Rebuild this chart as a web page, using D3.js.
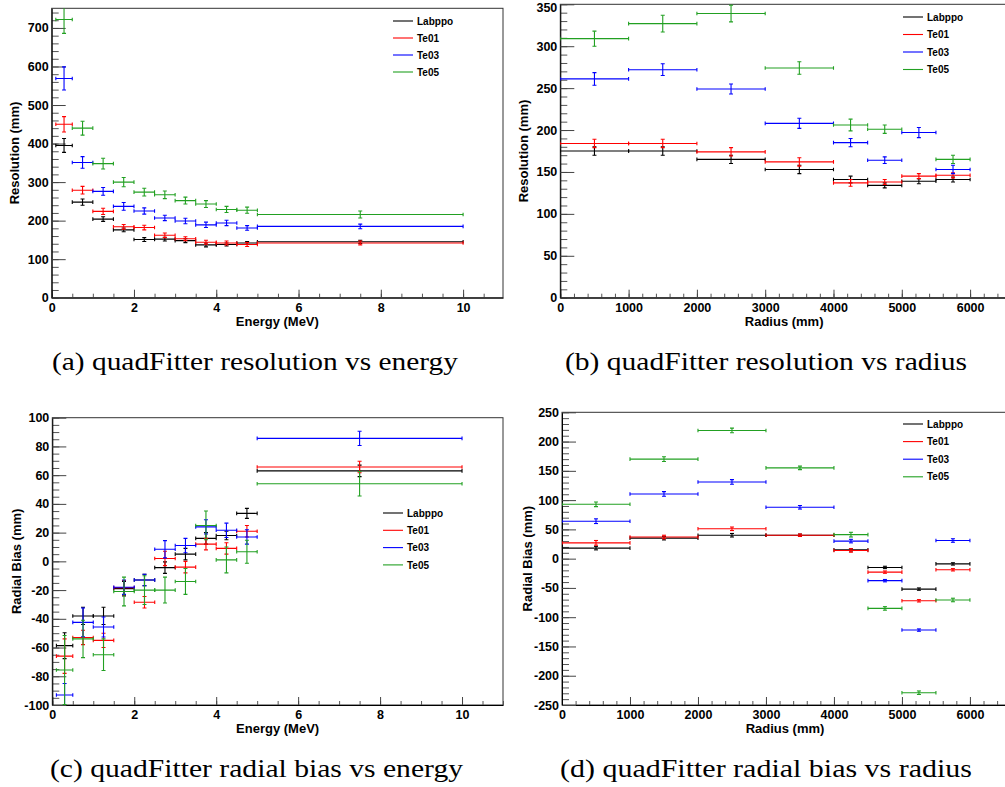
<!DOCTYPE html>
<html>
<head>
<meta charset="utf-8">
<script src="https://cdn.jsdelivr.net/npm/d3@7"></script>
<style>
  body { margin: 0; background: #fff; }
  svg { display: block; }
  .tick text { font-family: "Liberation Sans", Arial, sans-serif; font-weight: bold; font-size: 12.5px; fill: #000; }
  .axisTitle { font-family: "Liberation Sans", Arial, sans-serif; font-weight: bold; font-size: 13px; fill: #000; }
  .legendText { font-family: "Liberation Sans", Arial, sans-serif; font-weight: bold; font-size: 10px; fill: #000; }
  .caption { font-family: "Liberation Serif", "DejaVu Serif", serif; font-size: 25px; fill: #000; }
</style>
</head>
<body>
<svg id="fig" width="1005" height="787"></svg>
<script>
"use strict";

// series
const seriesNames = ["Labppo", "Te01", "Te03", "Te05"];
const seriesColors = ["#000000", "#ff0000", "#0000ff", "#22a022"];

// bins
const energyX = [0.3, 0.75, 1.25, 1.75, 2.25, 2.75, 3.25, 3.75, 4.25, 4.75, 7.5];
const energyHalf = [0.2, 0.25, 0.25, 0.25, 0.25, 0.25, 0.25, 0.25, 0.25, 0.25, 2.5];
const radiusX = [500, 1500, 2500, 3500, 4250, 4750, 5250, 5750];
const radiusHalf = [500, 500, 500, 500, 250, 250, 250, 250];

// (a) resolution vs energy
const resEnergyVal = [
  [395, 248, 204, 176, 151, 152, 148, 137, 138, 142, 145],
  [450, 279, 224, 184, 182, 162, 153, 144, 142, 138, 142],
  [569, 351, 276, 237, 225, 207, 199, 189, 194, 181, 185],
  [722, 440, 348, 300, 274, 267, 252, 243, 229, 227, 216]
];
const resEnergyErr = [
  [18, 8, 6, 5, 5, 5, 5, 5, 4, 4, 4],
  [20, 10, 8, 6, 6, 6, 5, 5, 5, 5, 5],
  [30, 15, 10, 10, 8, 7, 7, 7, 7, 6, 6],
  [36, 18, 14, 12, 10, 10, 9, 9, 8, 8, 9]
];

// (b) resolution vs radius
const resRadiusVal = [
  [175, 175, 165, 153, 141, 134, 139, 141],
  [184, 184, 174, 162, 137, 138, 145, 146],
  [261, 272, 249, 208, 185, 164, 197, 153],
  [309, 327, 339, 274, 206, 201, null, 165]
];
const resRadiusErr = [
  [5, 5, 5, 5, 4, 3, 3, 3],
  [5, 5, 5, 5, 4, 3, 3, 3],
  [7.5, 7, 6, 6, 5, 4, 6, 5],
  [9, 10, 10, 7.5, 7, 5, 0, 5]
];

// (c) radial bias vs energy
const biasEnergyVal = [
  [-58.7, -38, -38, -19, -13, -4.4, 5, 16, 18, 33.4, 63],
  [-66, -53, -55, -18.3, -28.5, 2, -4, 12, 9, 21, 65.7],
  [-93, -42.5, -45.7, -18, -13, 8.4, 11, 24, 21.6, 17, 85.6],
  [-75.6, -54, -65, -21, -20, -20, -14, 25, 1, 6.7, 54]
];
const biasEnergyErr = [
  [9, 6, 6, 5, 4, 4, 4, 4, 3, 3.5, 4],
  [12, 5, 5, 5, 4, 5, 4, 4, 4, 4, 4],
  [8, 10, 7, 5, 4, 6, 5, 5, 5, 5, 5],
  [24, 13, 11, 10, 10, 9, 9, 10, 9, 8, 8.5]
];

// (d) radial bias vs radius
const biasRadiusVal = [
  [18, 35, 40, 40, 15, -15, -52, -9],
  [27, 37, 51, 40, 14, -23, -72, -19],
  [64, 110.5, 131, 87.7, 30, -37.6, -122, 31],
  [92.8, 170, 219, 155, 41, -85, -229, -70.6]
];
const biasRadiusErr = [
  [3, 3, 3, 2, 2, 2, 2, 2],
  [4, 3, 3, 2, 3, 2, 2, 2],
  [4, 4, 4, 3, 3, 2, 2, 3],
  [4, 4, 4, 3, 4, 3, 3, 3]
];

// tick labels
const energyTicks = [0, 2, 4, 6, 8, 10];
const radiusTicks = [0, 1000, 2000, 3000, 4000, 5000, 6000];
const resEnergyTicks = [0, 100, 200, 300, 400, 500, 600, 700];
const resRadiusTicks = [0, 50, 100, 150, 200, 250, 300, 350];
const biasEnergyTicks = [-100, -80, -60, -40, -20, 0, 20, 40, 60, 80, 100];
const biasRadiusTicks = [-250, -200, -150, -100, -50, 0, 50, 100, 150, 200, 250];

const svg = d3.select("#fig");

function minorValues(domain, step){
  const lo = Math.ceil(domain[0] / step - 1e-9), hi = Math.floor(domain[1] / step + 1e-9);
  return d3.range(lo, hi + 1).map(i => +(i * step).toFixed(6));
}

function drawPanel(cfg, id){
  const g = svg.append("g");
  const x = d3.scaleLinear().domain(cfg.xDomain).range([cfg.left, cfg.right]);
  const y = d3.scaleLinear().domain(cfg.yDomain).range([cfg.bottom, cfg.top]);

  // frame
  g.append("rect")
    .attr("x", cfg.left).attr("y", cfg.top)
    .attr("width", cfg.right - cfg.left).attr("height", cfg.bottom - cfg.top)
    .attr("fill", "none").attr("stroke", "#333").attr("stroke-width", 1);

  // minor ticks
  g.append("g").attr("transform", `translate(0,${cfg.bottom})`)
    .call(d3.axisBottom(x).tickValues(minorValues(cfg.xDomain, cfg.xMinor)).tickSize(-4).tickSizeOuter(0).tickFormat(""))
    .call(a => a.select(".domain").remove())
    .selectAll("line").attr("stroke", "#555");
  g.append("g").attr("transform", `translate(${cfg.left},0)`)
    .call(d3.axisLeft(y).tickValues(minorValues(cfg.yDomain, cfg.yMinor)).tickSize(-7).tickSizeOuter(0).tickFormat(""))
    .call(a => a.select(".domain").remove())
    .selectAll("line").attr("stroke", "#555");

  // major ticks + labels
  g.append("g").attr("transform", `translate(0,${cfg.bottom})`)
    .call(d3.axisBottom(x).tickValues(cfg.xTicks).tickSize(-8).tickSizeOuter(0).tickPadding(5).tickFormat(d => String(d)))
    .call(a => a.select(".domain").attr("stroke", "#000"))
    .call(a => a.selectAll("line").attr("stroke", "#444"));
  const yAxisG = g.append("g").attr("transform", `translate(${cfg.left},0)`)
    .call(d3.axisLeft(y).tickValues(cfg.yTicks).tickSize(-14).tickSizeOuter(0).tickPadding(3).tickFormat(d => String(d)))
    .call(a => a.select(".domain").attr("stroke", "#000"))
    .call(a => a.selectAll("line").attr("stroke", "#444"));

  // keep the top label inside the page
  yAxisG.selectAll(".tick text").each(function(){
    const b = this.getBBox();
    const t = this.parentNode.transform.baseVal.consolidate();
    const topY = (t ? t.matrix.f : 0) + b.y;
    if (topY < 1) d3.select(this).attr("y", (+d3.select(this).attr("y") || 0) + (1 - topY));
  });

  // axis titles
  g.append("text").attr("class", "axisTitle")
    .attr("x", (cfg.left + cfg.right) / 2).attr("y", cfg.bottom + 28)
    .attr("text-anchor", "middle").text(cfg.xTitle);
  g.append("text").attr("class", "axisTitle")
    .attr("transform", `translate(${cfg.yTitleX},${(cfg.top + cfg.bottom) / 2})rotate(-90)`)
    .attr("text-anchor", "middle").text(cfg.yTitle);

  // clip
  svg.append("clipPath").attr("id", "clip" + id)
    .append("rect").attr("x", cfg.left).attr("y", cfg.top)
    .attr("width", cfg.right - cfg.left).attr("height", cfg.bottom - cfg.top);
  const plot = g.append("g").attr("clip-path", `url(#clip${id})`);

  // error bars
  seriesNames.forEach((name, s) => {
    const sg = plot.append("g").attr("stroke", seriesColors[s]).attr("stroke-width", 1.1).attr("fill", "none");
    const pts = cfg.xs.map((xc, i) => ({xc: xc, h: cfg.half[i], v: cfg.vals[s][i], e: cfg.errs[s][i]}))
      .filter(p => p.v !== null);
    pts.forEach(p => {
      const x0 = x(p.xc - p.h), x1 = x(p.xc + p.h), xm = x(p.xc);
      const ym = y(p.v), ylo = y(p.v - p.e), yhi = y(p.v + p.e);
      sg.append("line").attr("x1", x0).attr("x2", x1).attr("y1", ym).attr("y2", ym);
      sg.append("line").attr("x1", x0).attr("x2", x0).attr("y1", ym - 1.8).attr("y2", ym + 1.8);
      sg.append("line").attr("x1", x1).attr("x2", x1).attr("y1", ym - 1.8).attr("y2", ym + 1.8);
      sg.append("line").attr("x1", xm).attr("x2", xm).attr("y1", ylo).attr("y2", yhi);
      sg.append("line").attr("x1", xm - 2).attr("x2", xm + 2).attr("y1", ylo).attr("y2", ylo);
      sg.append("line").attr("x1", xm - 2).attr("x2", xm + 2).attr("y1", yhi).attr("y2", yhi);
    });
  });

  // legend
  seriesNames.forEach((name, s) => {
    const ly = cfg.legY + s * cfg.legStep;
    g.append("line").attr("x1", cfg.legX).attr("x2", cfg.legX + 20).attr("y1", ly).attr("y2", ly)
      .attr("stroke", seriesColors[s]).attr("stroke-width", 1.1);
    g.append("text").attr("class", "legendText").attr("x", cfg.legX + 24).attr("y", ly + 3.6).text(name);
  });

  // caption
  const cap = svg.append("text").attr("class", "caption")
    .attr("x", cfg.capX0).attr("y", cfg.capY).text(cfg.caption);
  cap.attr("textLength", cfg.capX1 - cfg.capX0).attr("lengthAdjust", "spacingAndGlyphs");
}

drawPanel({
  left: 51.7, right: 503, top: 8.3, bottom: 297.7,
  xDomain: [0, 10.97], yDomain: [0, 751], xTicks: energyTicks, yTicks: resEnergyTicks, xMinor: 0.5, yMinor: 20,
  xTitle: "Energy (MeV)", yTitle: "Resolution (mm)", yTitleX: 19,
  xs: energyX, half: energyHalf, vals: resEnergyVal, errs: resEnergyErr,
  legX: 393, legY: 21, legStep: 17,
  caption: "(a) quadFitter resolution vs energy", capX0: 52, capX1: 458, capY: 370
}, "a");

drawPanel({
  left: 560.3, right: 1008, top: 4.3, bottom: 297.7,
  xDomain: [0, 6555], yDomain: [0, 350], xTicks: radiusTicks, yTicks: resRadiusTicks, xMinor: 200, yMinor: 10,
  xTitle: "Radius (mm)", yTitle: "Resolution (mm)", yTitleX: 528,
  xs: radiusX, half: radiusHalf, vals: resRadiusVal, errs: resRadiusErr,
  legX: 903, legY: 17, legStep: 17.5,
  caption: "(b) quadFitter resolution vs radius", capX0: 565, capX1: 967, capY: 370
}, "b");

drawPanel({
  left: 52.3, right: 503, top: 417.7, bottom: 705,
  xDomain: [0, 11.0], yDomain: [-100, 100], xTicks: energyTicks, yTicks: biasEnergyTicks, xMinor: 0.5, yMinor: 5,
  xTitle: "Energy (MeV)", yTitle: "Radial Bias (mm)", yTitleX: 21,
  xs: energyX, half: energyHalf, vals: biasEnergyVal, errs: biasEnergyErr,
  legX: 383, legY: 513, legStep: 17.3,
  caption: "(c) quadFitter radial bias vs energy", capX0: 50, capX1: 463, capY: 777
}, "c");

drawPanel({
  left: 562, right: 1008, top: 412.3, bottom: 705,
  xDomain: [0, 6560], yDomain: [-250, 250], xTicks: radiusTicks, yTicks: biasRadiusTicks, xMinor: 200, yMinor: 10,
  xTitle: "Radius (mm)", yTitle: "Radial Bias (mm)", yTitleX: 532,
  xs: radiusX, half: radiusHalf, vals: biasRadiusVal, errs: biasRadiusErr,
  legX: 903, legY: 424, legStep: 17.6,
  caption: "(d) quadFitter radial bias vs radius", capX0: 560, capX1: 972, capY: 777
}, "d");
</script>
</body>
</html>
